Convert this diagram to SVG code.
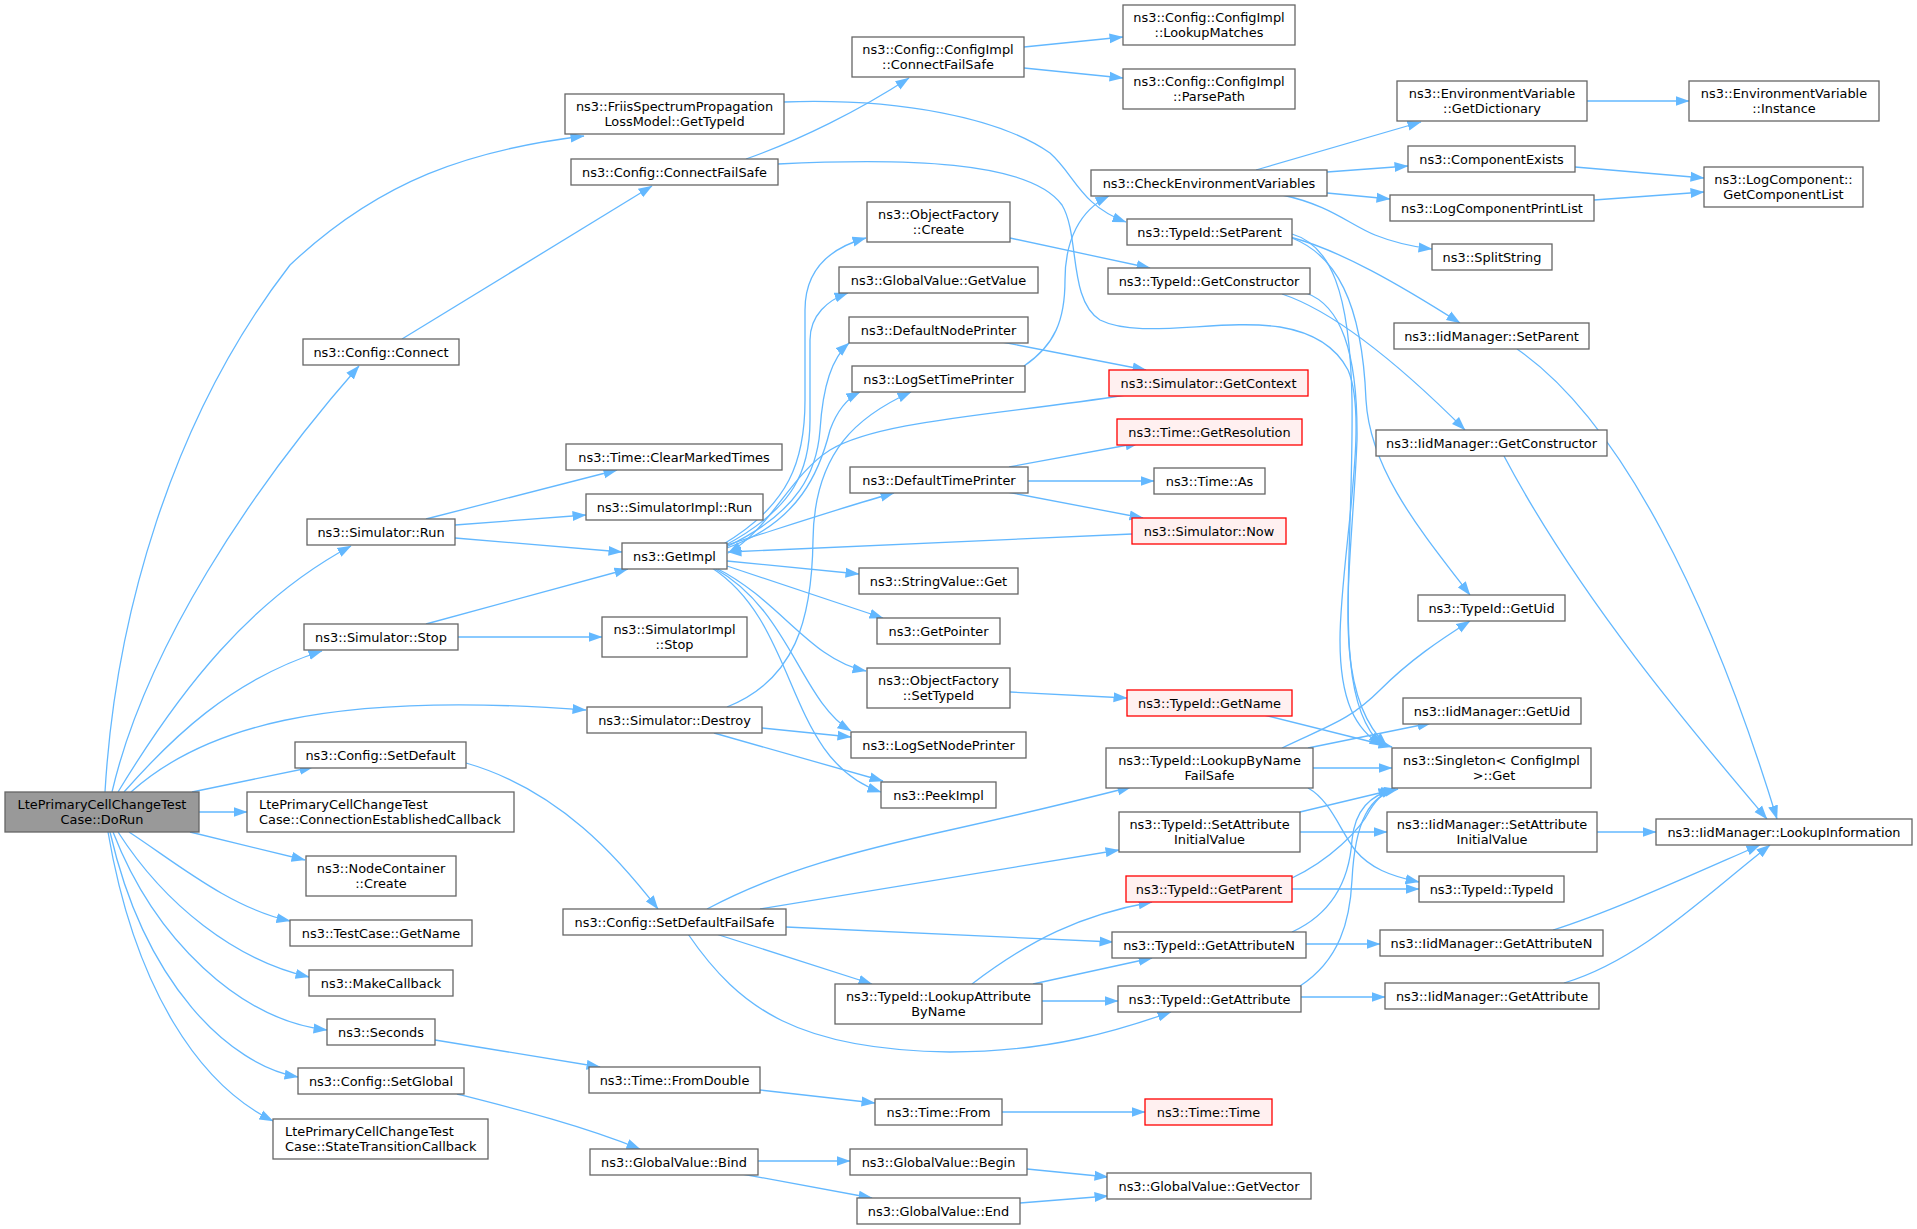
<svg xmlns="http://www.w3.org/2000/svg" width="1917" height="1229" viewBox="0 0 1917 1229">
<style>
.n rect{fill:#fff;stroke:#666;stroke-width:1.3}
.r rect{fill:#fff0f0;stroke:#ff0000;stroke-width:1.3}
.g rect{fill:#999;stroke:#666;stroke-width:1.3}
text{font-family:"DejaVu Sans","Liberation Sans",sans-serif;font-size:12.9px;fill:#000;text-anchor:middle}
text.l{text-anchor:start}
#edges path{fill:none;stroke:#63b8ff;stroke-width:1.3;marker-end:url(#ah)}
</style>
<defs>
<marker id="ah" markerWidth="15" markerHeight="11" refX="13.5" refY="5.5" orient="auto" markerUnits="userSpaceOnUse"><path d="M0,0.5 L14,5.5 L0,10.5 z" fill="#63b8ff" stroke="none"/></marker>
</defs>
<rect width="1917" height="1229" fill="#fff"/>
<g id="edges">
<path d="M105,792 C115,620 170,420 290,265 C380,180 470,150 584,136"/>
<path d="M112,792 C145,650 250,490 359,366"/>
<path d="M118,792 C180,690 250,600 351,546"/>
<path d="M124,792 C170,740 230,680 322,651"/>
<path d="M131,792 C200,730 320,690 586,710"/>
<path d="M192,792 L313,767"/>
<path d="M199,812 L247,812"/>
<path d="M190,832 L305,860"/>
<path d="M129,832 C175,862 230,908 290,921"/>
<path d="M118,832 C165,905 235,960 309,977"/>
<path d="M113,832 C155,940 240,1020 327,1030"/>
<path d="M110,832 C145,985 230,1065 298,1077"/>
<path d="M108,832 C135,990 200,1085 273,1121"/>
<path d="M402,339 L652,186"/>
<path d="M746,159 C800,140 860,110 909,78"/>
<path d="M778,164 C900,158 1030,160 1062,205 C1080,235 1068,300 1100,320 C1140,340 1220,318 1280,327 C1310,332 1335,345 1348,370 C1370,420 1340,560 1340,640 C1340,700 1355,730 1383,746"/>
<path d="M1024,47 L1123,37"/>
<path d="M1024,68 L1123,78"/>
<path d="M784,102 C900,98 1000,118 1050,153 C1075,175 1080,205 1126,222"/>
<path d="M426,519 L617,470"/>
<path d="M455,525 L586,515"/>
<path d="M455,538 L622,552"/>
<path d="M426,624 L628,569"/>
<path d="M458,637 L602,637"/>
<path d="M762,728 L851,737"/>
<path d="M714,733 L883,781"/>
<path d="M727,707 C795,680 812,620 813,540 C814,450 860,415 911,392"/>
<path d="M722,545 C790,505 805,460 805,400 L805,310 C805,270 830,248 866,238"/>
<path d="M724,546 C795,508 810,470 810,420 L810,340 C810,315 828,300 848,293"/>
<path d="M726,547 C800,512 817,470 820,430 C823,385 832,358 849,343"/>
<path d="M727,548 C800,522 820,470 830,430 C838,408 848,398 860,392"/>
<path d="M727,545 C790,525 850,505 894,493"/>
<path d="M727,561 L859,574"/>
<path d="M727,566 L883,618"/>
<path d="M716,568 C780,600 810,660 866,671"/>
<path d="M714,568 C790,610 800,700 851,731"/>
<path d="M712,568 C800,625 785,760 881,792"/>
<path d="M1010,238 L1150,268"/>
<path d="M1002,342 L1146,370"/>
<path d="M1024,366 C1055,345 1065,320 1065,280 C1065,240 1080,210 1109,196"/>
<path d="M1126,395 C1000,415 880,420 830,450 C790,475 770,530 728,553"/>
<path d="M1009,467 L1139,443"/>
<path d="M1028,481 L1154,481"/>
<path d="M1007,492 L1143,518"/>
<path d="M1132,534 L728,552"/>
<path d="M1010,692 L1127,698"/>
<path d="M1264,715 L1392,747"/>
<path d="M466,763 C560,790 620,860 658,909"/>
<path d="M707,909 C780,870 860,850 950,830 C1040,810 1080,800 1131,787"/>
<path d="M760,909 L1119,850"/>
<path d="M786,927 L1113,942"/>
<path d="M716,934 L872,984"/>
<path d="M688,934 C740,1010 800,1050 950,1052 C1050,1052 1120,1030 1171,1012"/>
<path d="M972,984 C1030,940 1080,915 1152,902"/>
<path d="M1033,984 L1152,958"/>
<path d="M1042,1001 L1118,1001"/>
<path d="M435,1040 L600,1067"/>
<path d="M760,1090 L875,1103"/>
<path d="M1002,1112 L1145,1112"/>
<path d="M457,1094 C520,1110 580,1125 640,1149"/>
<path d="M758,1161 L850,1161"/>
<path d="M742,1174 L872,1198"/>
<path d="M1027,1169 L1108,1177"/>
<path d="M1020,1203 L1108,1196"/>
<path d="M1256,170 L1421,122"/>
<path d="M1327,172 L1408,166"/>
<path d="M1327,193 L1390,199"/>
<path d="M1282,195 C1330,205 1350,225 1375,235 C1395,243 1415,247 1432,249"/>
<path d="M1587,101 L1689,101"/>
<path d="M1575,167 L1704,178"/>
<path d="M1594,200 L1704,192"/>
<path d="M1290,237 C1340,250 1400,285 1460,323"/>
<path d="M1292,234 C1330,245 1350,290 1352,400 C1354,560 1330,700 1382,745"/>
<path d="M1292,238 C1335,255 1362,300 1366,400 C1370,470 1420,530 1470,595"/>
<path d="M1306,293 C1340,305 1358,350 1357,440 C1352,570 1328,690 1387,746"/>
<path d="M1282,294 C1330,310 1390,355 1465,430"/>
<path d="M1517,349 C1620,420 1710,600 1777,819"/>
<path d="M1504,456 C1580,600 1700,740 1767,819"/>
<path d="M1282,748 C1330,725 1350,720 1380,690 C1410,660 1440,640 1470,621"/>
<path d="M1308,748 L1431,723"/>
<path d="M1313,768 L1392,768"/>
<path d="M1308,788 C1330,800 1340,830 1355,850 C1370,868 1390,876 1419,882"/>
<path d="M1300,832 L1387,832"/>
<path d="M1300,812 L1392,790"/>
<path d="M1597,832 L1656,832"/>
<path d="M1292,889 L1419,889"/>
<path d="M1292,878 C1330,860 1360,830 1370,810 C1378,797 1385,792 1395,789"/>
<path d="M1306,944 L1380,944"/>
<path d="M1292,932 C1340,910 1350,870 1352,840 C1355,810 1370,795 1395,789"/>
<path d="M1301,997 L1385,997"/>
<path d="M1300,986 C1340,960 1350,920 1352,880 C1355,820 1370,795 1398,789"/>
<path d="M1553,930 C1610,912 1680,880 1760,845"/>
<path d="M1564,983 C1640,960 1700,900 1770,845"/>
</g>
<g id="n_dorun" class="g"><rect x="5" y="792" width="194" height="40"/><text x="102" y="809">LtePrimaryCellChangeTest</text><text x="102" y="823.5">Case::DoRun</text></g>
<g id="n_friis" class="n"><rect x="565" y="94" width="219" height="40"/><text x="674.5" y="111">ns3::FriisSpectrumPropagation</text><text x="674.5" y="125.5">LossModel::GetTypeId</text></g>
<g id="n_cfs" class="n"><rect x="571" y="159" width="207" height="26"/><text x="674.5" y="176.5">ns3::Config::ConnectFailSafe</text></g>
<g id="n_connect" class="n"><rect x="303" y="339" width="156" height="26"/><text x="381" y="356.5">ns3::Config::Connect</text></g>
<g id="n_clear" class="n"><rect x="566" y="444" width="216" height="26"/><text x="674" y="461.5">ns3::Time::ClearMarkedTimes</text></g>
<g id="n_simimplrun" class="n"><rect x="586" y="494" width="177" height="26"/><text x="674.5" y="511.5">ns3::SimulatorImpl::Run</text></g>
<g id="n_simrun" class="n"><rect x="307" y="519" width="148" height="26"/><text x="381" y="536.5">ns3::Simulator::Run</text></g>
<g id="n_getimpl" class="n"><rect x="622" y="543" width="105" height="26"/><text x="674.5" y="560.5">ns3::GetImpl</text></g>
<g id="n_simstop" class="n"><rect x="304" y="624" width="154" height="26"/><text x="381" y="641.5">ns3::Simulator::Stop</text></g>
<g id="n_simimplstop" class="n"><rect x="602" y="617" width="145" height="40"/><text x="674.5" y="634">ns3::SimulatorImpl</text><text x="674.5" y="648.5">::Stop</text></g>
<g id="n_destroy" class="n"><rect x="587" y="707" width="175" height="26"/><text x="674.5" y="724.5">ns3::Simulator::Destroy</text></g>
<g id="n_setdefault" class="n"><rect x="295" y="742" width="171" height="26"/><text x="380.5" y="759.5">ns3::Config::SetDefault</text></g>
<g id="n_connest" class="n"><rect x="247" y="792" width="267" height="40"/><text class="l" x="259" y="809">LtePrimaryCellChangeTest</text><text class="l" x="259" y="823.5">Case::ConnectionEstablishedCallback</text></g>
<g id="n_nodecreate" class="n"><rect x="306" y="856" width="150" height="40"/><text x="381" y="873">ns3::NodeContainer</text><text x="381" y="887.5">::Create</text></g>
<g id="n_testname" class="n"><rect x="290" y="920" width="182" height="26"/><text x="381" y="937.5">ns3::TestCase::GetName</text></g>
<g id="n_makecb" class="n"><rect x="309" y="970" width="144" height="26"/><text x="381" y="987.5">ns3::MakeCallback</text></g>
<g id="n_seconds" class="n"><rect x="327" y="1019" width="108" height="26"/><text x="381" y="1036.5">ns3::Seconds</text></g>
<g id="n_setglobal" class="n"><rect x="298" y="1068" width="166" height="26"/><text x="381" y="1085.5">ns3::Config::SetGlobal</text></g>
<g id="n_statetrans" class="n"><rect x="273" y="1119" width="215" height="40"/><text class="l" x="285" y="1136">LtePrimaryCellChangeTest</text><text class="l" x="285" y="1150.5">Case::StateTransitionCallback</text></g>
<g id="n_cicfs" class="n"><rect x="852" y="37" width="172" height="40"/><text x="938" y="54">ns3::Config::ConfigImpl</text><text x="938" y="68.5">::ConnectFailSafe</text></g>
<g id="n_ofcreate" class="n"><rect x="867" y="202" width="143" height="40"/><text x="938.5" y="219">ns3::ObjectFactory</text><text x="938.5" y="233.5">::Create</text></g>
<g id="n_gvget" class="n"><rect x="839" y="267" width="199" height="26"/><text x="938.5" y="284.5">ns3::GlobalValue::GetValue</text></g>
<g id="n_dnp" class="n"><rect x="849" y="317" width="179" height="26"/><text x="938.5" y="334.5">ns3::DefaultNodePrinter</text></g>
<g id="n_lstp" class="n"><rect x="852" y="366" width="173" height="26"/><text x="938.5" y="383.5">ns3::LogSetTimePrinter</text></g>
<g id="n_dtp" class="n"><rect x="850" y="467" width="178" height="26"/><text x="939" y="484.5">ns3::DefaultTimePrinter</text></g>
<g id="n_svget" class="n"><rect x="859" y="568" width="159" height="26"/><text x="938.5" y="585.5">ns3::StringValue::Get</text></g>
<g id="n_getptr" class="n"><rect x="877" y="618" width="123" height="26"/><text x="938.5" y="635.5">ns3::GetPointer</text></g>
<g id="n_ofset" class="n"><rect x="867" y="668" width="143" height="40"/><text x="938.5" y="685">ns3::ObjectFactory</text><text x="938.5" y="699.5">::SetTypeId</text></g>
<g id="n_lsnp" class="n"><rect x="851" y="732" width="175" height="26"/><text x="938.5" y="749.5">ns3::LogSetNodePrinter</text></g>
<g id="n_peek" class="n"><rect x="881" y="782" width="115" height="26"/><text x="938.5" y="799.5">ns3::PeekImpl</text></g>
<g id="n_sdfs" class="n"><rect x="563" y="909" width="223" height="26"/><text x="674.5" y="926.5">ns3::Config::SetDefaultFailSafe</text></g>
<g id="n_lab" class="n"><rect x="835" y="984" width="207" height="40"/><text x="938.5" y="1001">ns3::TypeId::LookupAttribute</text><text x="938.5" y="1015.5">ByName</text></g>
<g id="n_fromdouble" class="n"><rect x="589" y="1067" width="171" height="26"/><text x="674.5" y="1084.5">ns3::Time::FromDouble</text></g>
<g id="n_from" class="n"><rect x="875" y="1099" width="127" height="26"/><text x="938.5" y="1116.5">ns3::Time::From</text></g>
<g id="n_bind" class="n"><rect x="590" y="1149" width="168" height="26"/><text x="674" y="1166.5">ns3::GlobalValue::Bind</text></g>
<g id="n_begin" class="n"><rect x="850" y="1149" width="177" height="26"/><text x="938.5" y="1166.5">ns3::GlobalValue::Begin</text></g>
<g id="n_end" class="n"><rect x="857" y="1198" width="163" height="26"/><text x="938.5" y="1215.5">ns3::GlobalValue::End</text></g>
<g id="n_lookupm" class="n"><rect x="1123" y="5" width="172" height="40"/><text x="1209" y="22">ns3::Config::ConfigImpl</text><text x="1209" y="36.5">::LookupMatches</text></g>
<g id="n_parsepath" class="n"><rect x="1123" y="69" width="172" height="40"/><text x="1209" y="86">ns3::Config::ConfigImpl</text><text x="1209" y="100.5">::ParsePath</text></g>
<g id="n_getdict" class="n"><rect x="1397" y="81" width="190" height="40"/><text x="1492" y="98">ns3::EnvironmentVariable</text><text x="1492" y="112.5">::GetDictionary</text></g>
<g id="n_instance" class="n"><rect x="1689" y="81" width="190" height="40"/><text x="1784" y="98">ns3::EnvironmentVariable</text><text x="1784" y="112.5">::Instance</text></g>
<g id="n_checkenv" class="n"><rect x="1091" y="170" width="236" height="26"/><text x="1209" y="187.5">ns3::CheckEnvironmentVariables</text></g>
<g id="n_compexists" class="n"><rect x="1408" y="146" width="167" height="26"/><text x="1491.5" y="163.5">ns3::ComponentExists</text></g>
<g id="n_lcpl" class="n"><rect x="1390" y="195" width="204" height="26"/><text x="1492" y="212.5">ns3::LogComponentPrintList</text></g>
<g id="n_getcl" class="n"><rect x="1704" y="167" width="159" height="40"/><text x="1783.5" y="184">ns3::LogComponent::</text><text x="1783.5" y="198.5">GetComponentList</text></g>
<g id="n_tsetparent" class="n"><rect x="1127" y="219" width="165" height="26"/><text x="1209.5" y="236.5">ns3::TypeId::SetParent</text></g>
<g id="n_split" class="n"><rect x="1432" y="244" width="120" height="26"/><text x="1492" y="261.5">ns3::SplitString</text></g>
<g id="n_tgetctor" class="n"><rect x="1108" y="268" width="202" height="26"/><text x="1209" y="285.5">ns3::TypeId::GetConstructor</text></g>
<g id="n_isetparent" class="n"><rect x="1394" y="323" width="195" height="26"/><text x="1491.5" y="340.5">ns3::IidManager::SetParent</text></g>
<g id="n_getctx" class="r"><rect x="1109" y="370" width="199" height="26"/><text x="1208.5" y="387.5">ns3::Simulator::GetContext</text></g>
<g id="n_getres" class="r"><rect x="1117" y="419" width="185" height="26"/><text x="1209.5" y="436.5">ns3::Time::GetResolution</text></g>
<g id="n_igetctor" class="n"><rect x="1376" y="430" width="231" height="26"/><text x="1491.5" y="447.5">ns3::IidManager::GetConstructor</text></g>
<g id="n_timeas" class="n"><rect x="1154" y="468" width="111" height="26"/><text x="1209.5" y="485.5">ns3::Time::As</text></g>
<g id="n_now" class="r"><rect x="1132" y="518" width="154" height="26"/><text x="1209" y="535.5">ns3::Simulator::Now</text></g>
<g id="n_tgetuid" class="n"><rect x="1418" y="595" width="147" height="26"/><text x="1491.5" y="612.5">ns3::TypeId::GetUid</text></g>
<g id="n_tgetname" class="r"><rect x="1127" y="690" width="165" height="26"/><text x="1209.5" y="707.5">ns3::TypeId::GetName</text></g>
<g id="n_igetuid" class="n"><rect x="1403" y="698" width="178" height="26"/><text x="1492" y="715.5">ns3::IidManager::GetUid</text></g>
<g id="n_lbnfs" class="n"><rect x="1106" y="748" width="207" height="40"/><text x="1209.5" y="765">ns3::TypeId::LookupByName</text><text x="1209.5" y="779.5">FailSafe</text></g>
<g id="n_singleton" class="n"><rect x="1392" y="748" width="199" height="40"/><text x="1491.5" y="765">ns3::Singleton&lt; ConfigImpl</text><text x="1494" y="779.5">&gt;::Get</text></g>
<g id="n_tsetattr" class="n"><rect x="1119" y="812" width="181" height="40"/><text x="1209.5" y="829">ns3::TypeId::SetAttribute</text><text x="1209.5" y="843.5">InitialValue</text></g>
<g id="n_isetattr" class="n"><rect x="1387" y="812" width="210" height="40"/><text x="1492" y="829">ns3::IidManager::SetAttribute</text><text x="1492" y="843.5">InitialValue</text></g>
<g id="n_lookupinfo" class="n"><rect x="1656" y="819" width="256" height="26"/><text x="1784" y="836.5">ns3::IidManager::LookupInformation</text></g>
<g id="n_tgetparent" class="r"><rect x="1126" y="876" width="166" height="26"/><text x="1209" y="893.5">ns3::TypeId::GetParent</text></g>
<g id="n_ttypeid" class="n"><rect x="1419" y="876" width="145" height="26"/><text x="1491.5" y="893.5">ns3::TypeId::TypeId</text></g>
<g id="n_tgetattrn" class="n"><rect x="1112" y="932" width="194" height="26"/><text x="1209" y="949.5">ns3::TypeId::GetAttributeN</text></g>
<g id="n_igetattrn" class="n"><rect x="1380" y="930" width="223" height="26"/><text x="1491.5" y="947.5">ns3::IidManager::GetAttributeN</text></g>
<g id="n_tgetattr" class="n"><rect x="1118" y="986" width="183" height="26"/><text x="1209.5" y="1003.5">ns3::TypeId::GetAttribute</text></g>
<g id="n_igetattr" class="n"><rect x="1385" y="983" width="214" height="26"/><text x="1492" y="1000.5">ns3::IidManager::GetAttribute</text></g>
<g id="n_timetime" class="r"><rect x="1145" y="1099" width="127" height="26"/><text x="1208.5" y="1116.5">ns3::Time::Time</text></g>
<g id="n_getvector" class="n"><rect x="1107" y="1173" width="204" height="26"/><text x="1209" y="1190.5">ns3::GlobalValue::GetVector</text></g>
</svg>
